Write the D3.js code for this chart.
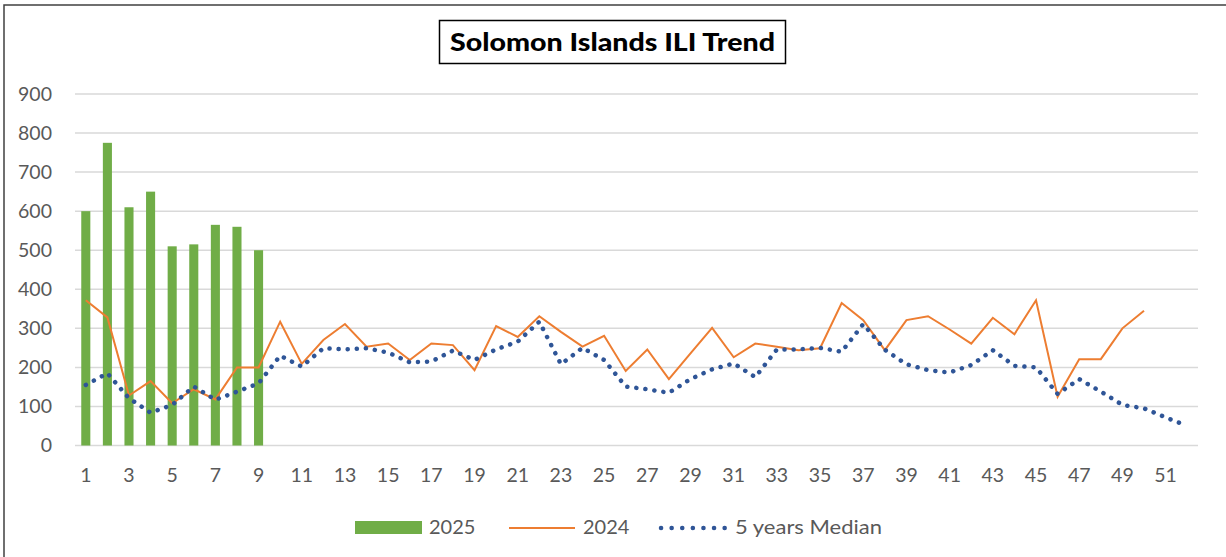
<!DOCTYPE html>
<meta charset="utf-8">
<style>
body { margin: 0; background: #fff; }
svg { display: block; font-family: Lato, "Open Sans", sans-serif; }
.tick-label { fill: #595959; font-size: 19.5px; }
.legend-label { fill: #595959; font-size: 20px; }
</style>
<svg width="1226" height="557"></svg>
<script src="https://d3js.org/d3.v7.min.js"></script>
<script>
var weeks = d3.range(1, 53);
var cases2025 = [600, 775, 610, 650, 510, 515, 565, 560, 500];
var cases2024 = [372, 328, 128, 165, 108, 144, 118, 200, 200, 317,
                 209, 270, 311, 253, 261, 219, 261, 257, 193, 306,
                 278, 331, 291, 253, 281, 191, 246, 170, 236, 301,
                 226, 261, 253, 244, 249, 365, 321, 244, 321, 331,
                 297, 261, 327, 285, 372, 125, 221, 221, 300, 345];
var median5y = [155, 185, 121, 84, 104, 151, 117, 138, 159, 230,
                202, 249, 246, 249, 238, 213, 215, 243, 219, 246,
                266, 317, 208, 250, 219, 151, 144, 135, 170, 195,
                210, 175, 246, 246, 250, 240, 311, 245, 208, 193,
                187, 206, 244, 204, 200, 132, 170, 138, 104, 95,
                72, 50];
var yTicks = [0, 100, 200, 300, 400, 500, 600, 700, 800, 900];
var xTicks = weeks.filter(function(w) { return w % 2 === 1; });

var svg = d3.select("svg");

// outer frame
svg.append("path")
    .attr("d", "M4,560 L4,5 L1230,5")
    .attr("fill", "none")
    .attr("stroke", "#404040")
    .attr("stroke-width", 1.5);

var x = d3.scaleBand().domain(weeks).range([75, 1198]).paddingInner(0.58).paddingOuter(0.29);
var xc = function(w) { return x(w) + x.bandwidth() / 2; };
var y = d3.scaleLinear().domain([0, 900]).range([445.5, 94]);

// gridlines
svg.append("g").selectAll("line")
    .data(yTicks)
  .join("line")
    .attr("x1", 75).attr("x2", 1198)
    .attr("y1", function(d) { return y(d); })
    .attr("y2", function(d) { return y(d); })
    .attr("stroke", "#d9d9d9")
    .attr("stroke-width", 1.5);

// y labels
svg.append("g").selectAll("text")
    .data(yTicks)
  .join("text")
    .attr("class", "tick-label")
    .attr("x", 52)
    .attr("y", function(d) { return y(d); })
    .attr("dy", "0.35em")
    .attr("text-anchor", "end")
    .text(function(d) { return d; });

// x labels
svg.append("g").selectAll("text")
    .data(xTicks)
  .join("text")
    .attr("class", "tick-label")
    .attr("x", xc)
    .attr("y", 482)
    .attr("text-anchor", "middle")
    .text(function(d) { return d; });

// 2025 bars
svg.append("g").selectAll("rect")
    .data(cases2025)
  .join("rect")
    .attr("x", function(d, i) { return x(weeks[i]); })
    .attr("width", x.bandwidth())
    .attr("y", function(d) { return y(d); })
    .attr("height", function(d) { return y(0) - y(d); })
    .attr("fill", "#70ad47");

// 2024 line
var line = d3.line()
    .x(function(d, i) { return xc(weeks[i]); })
    .y(function(d) { return y(d); });

svg.append("path")
    .datum(cases2024)
    .attr("d", line)
    .attr("fill", "none")
    .attr("stroke", "#ed7d31")
    .attr("stroke-width", 2);

// 5 years median
svg.append("path")
    .datum(median5y)
    .attr("d", line)
    .attr("fill", "none")
    .attr("stroke", "#2f5597")
    .attr("stroke-width", 4.5)
    .attr("stroke-linecap", "round")
    .attr("stroke-dasharray", "0.1 9");

// title
var title = svg.append("g");
title.append("rect")
    .attr("x", 439.5).attr("y", 20.5)
    .attr("width", 346).attr("height", 43)
    .attr("fill", "#fff")
    .attr("stroke", "#000")
    .attr("stroke-width", 1.5);
title.append("text")
    .attr("x", 450).attr("y", 51)
    .attr("font-size", "25px")
    .attr("font-weight", 900)
    .attr("fill", "#000")
    .attr("textLength", 325)
    .attr("lengthAdjust", "spacingAndGlyphs")
    .text("Solomon Islands ILI Trend");

// legend
var lg = svg.append("g");
lg.append("rect")
    .attr("x", 355).attr("y", 521).attr("width", 67).attr("height", 13)
    .attr("fill", "#70ad47");
lg.append("text").attr("class", "legend-label")
    .attr("x", 429).attr("y", 534).text("2025");
lg.append("line")
    .attr("x1", 509).attr("x2", 575).attr("y1", 528).attr("y2", 528)
    .attr("stroke", "#ed7d31").attr("stroke-width", 2);
lg.append("text").attr("class", "legend-label")
    .attr("x", 583).attr("y", 534).text("2024");
lg.append("line")
    .attr("x1", 661).attr("x2", 725).attr("y1", 528).attr("y2", 528)
    .attr("stroke", "#2f5597").attr("stroke-width", 4.5)
    .attr("stroke-linecap", "round")
    .attr("stroke-dasharray", "0.1 10.5");
lg.append("text").attr("class", "legend-label")
    .attr("x", 735).attr("y", 534)
    .attr("textLength", 147)
    .attr("lengthAdjust", "spacingAndGlyphs")
    .text("5 years Median");
</script>
